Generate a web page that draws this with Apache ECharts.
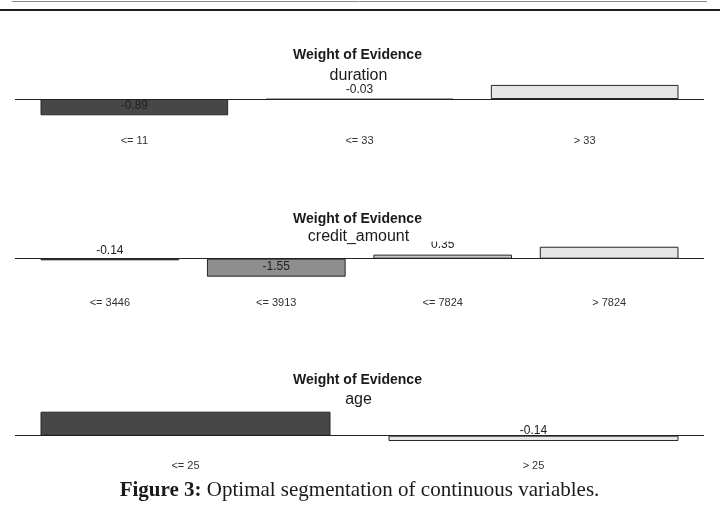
<!DOCTYPE html>
<html><head><meta charset="utf-8">
<script src="https://cdn.jsdelivr.net/npm/echarts@6/dist/echarts.min.js"></script>
<style>html,body{margin:0;padding:0;background:#fff}#c{width:720px;height:515px}</style>
</head><body><div id="c"></div>
<script>
// ---- data ----
const durationBins = ['<= 11', '<= 33', '> 33'];
const durationWoe = [-0.89, -0.03, 0.77];
const amountBins = ['<= 3446', '<= 3913', '<= 7824', '> 7824'];
const amountWoe = [-0.14, -1.55, 0.35, 1.03];
const ageBins = ['<= 25', '> 25'];
const ageWoe = [0.63, -0.14];
const variableNames = ['duration', 'credit_amount', 'age'];
const mainTitle = 'Weight of Evidence';
const captionLead = 'Figure 3:';
const captionText = 'Optimal segmentation of continuous variables.';

// ---- layout / style ----
const SANS = 'Liberation Sans, Arial, sans-serif';
const GRID_LEFT = 15, GRID_RIGHT = 16, W = 720;
const gridWidth = W - GRID_LEFT - GRID_RIGHT;
const panels = [
  {bins: durationBins, woe: durationWoe, top: 81, height: 35.5, ymin: -0.956, ymax: 0.984,
   titleTop: 48.5, nameTop: 68, colors: ['#474747', '#aeaeae', '#e6e6e6']},
  {bins: amountBins, woe: amountWoe, top: 241.5, height: 37.5, ymin: -1.748, ymax: 1.481,
   titleTop: 212, nameTop: 229, colors: ['#474747', '#8e8e8e', '#c8c8c8', '#e6e6e6']},
  {bins: ageBins, woe: ageWoe, top: 410.5, height: 31.7, ymin: -0.171, ymax: 0.661,
   titleTop: 373.5, nameTop: 392, colors: ['#474747', '#e6e6e6']}
];

const grids = [], xAxes = [], yAxes = [], series = [], titles = [], graphics = [];

graphics.push({type: 'line', shape: {x1: 12, y1: 1.5, x2: 707, y2: 1.5}, style: {stroke: '#8a8a8a', lineWidth: 1}, silent: true});
graphics.push({type: 'line', shape: {x1: 0, y1: 10, x2: 720, y2: 10}, style: {stroke: '#1e1e1e', lineWidth: 2}, silent: true});

panels.forEach((p, i) => {
  const n = p.bins.length;
  const span = 1.2 * n - 0.2;
  const xmin = 0.2 - 0.04 * span, xmax = 1.2 * n + 0.04 * span;
  const centers = p.bins.map((b, k) => 0.7 + 1.2 * k);
  const pxPerUnit = gridWidth / (xmax - xmin);
  grids.push({left: GRID_LEFT, right: GRID_RIGHT, top: p.top, height: p.height});
  xAxes.push({
    type: 'value', gridIndex: i, min: xmin, max: xmax,
    axisLine: {show: false}, axisTick: {show: false}, splitLine: {show: false},
    axisLabel: {
      show: true, customValues: centers, margin: 18.5, fontSize: 11, color: '#333', fontFamily: SANS,
      formatter: v => { const k = Math.round((v - 0.7) / 1.2); return p.bins[k] || ''; }
    }
  });
  yAxes.push({type: 'value', gridIndex: i, min: p.ymin, max: p.ymax, show: false, splitLine: {show: false}});
  series.push({
    type: 'bar', xAxisIndex: i, yAxisIndex: i, barWidth: pxPerUnit, animation: false,
    itemStyle: {borderColor: '#262626', borderWidth: 1},
    label: {show: true, distance: 4, fontSize: 12, color: '#222', fontFamily: SANS,
            formatter: q => q.value[1].toFixed(2)},
    data: p.woe.map((v, k) => ({
      value: [centers[k], v],
      itemStyle: {color: p.colors[k]},
      label: {position: v < 0 ? 'insideBottom' : 'top'}
    })),
    markLine: {silent: true, symbol: 'none', animation: false, label: {show: false},
               lineStyle: {color: '#222', width: 1.2, type: 'solid'}, data: [{yAxis: 0}]}
  });
  titles.push({text: mainTitle, left: 357.5, top: p.titleTop, textAlign: 'center', padding: 0, z: 10,
               textStyle: {fontFamily: SANS, fontSize: 14, fontWeight: 'bold', color: '#1a1a1a'}});
  titles.push({text: variableNames[i], left: 358.5, top: p.nameTop, textAlign: 'center', padding: 0, z: 10,
               textStyle: {fontFamily: SANS, fontSize: 16, fontWeight: 'normal', color: '#1a1a1a'}});
  // white band above the plot region: emulates clipping of labels outside the plot area
  graphics.push({type: 'rect', shape: {x: 0, y: p.top - 22, width: W, height: 22}, style: {fill: '#fff'}, z: 5, silent: true});
});

titles.push({
  text: '{b|' + captionLead + '} ' + captionText, left: 359.5, top: 480, textAlign: 'center', padding: 0, z: 10,
  textStyle: {fontFamily: 'Liberation Serif, serif', fontSize: 21, fontWeight: 'normal', color: '#1a1a1a',
              rich: {b: {fontFamily: 'Liberation Serif, serif', fontSize: 21, fontWeight: 'bold', color: '#1a1a1a'}}}
});

const chart = echarts.init(document.getElementById('c'), null, {renderer: 'canvas'});
chart.setOption({
  animation: false, backgroundColor: '#fff',
  title: titles, grid: grids, xAxis: xAxes, yAxis: yAxes, series: series, graphic: graphics
});
</script></body></html>
